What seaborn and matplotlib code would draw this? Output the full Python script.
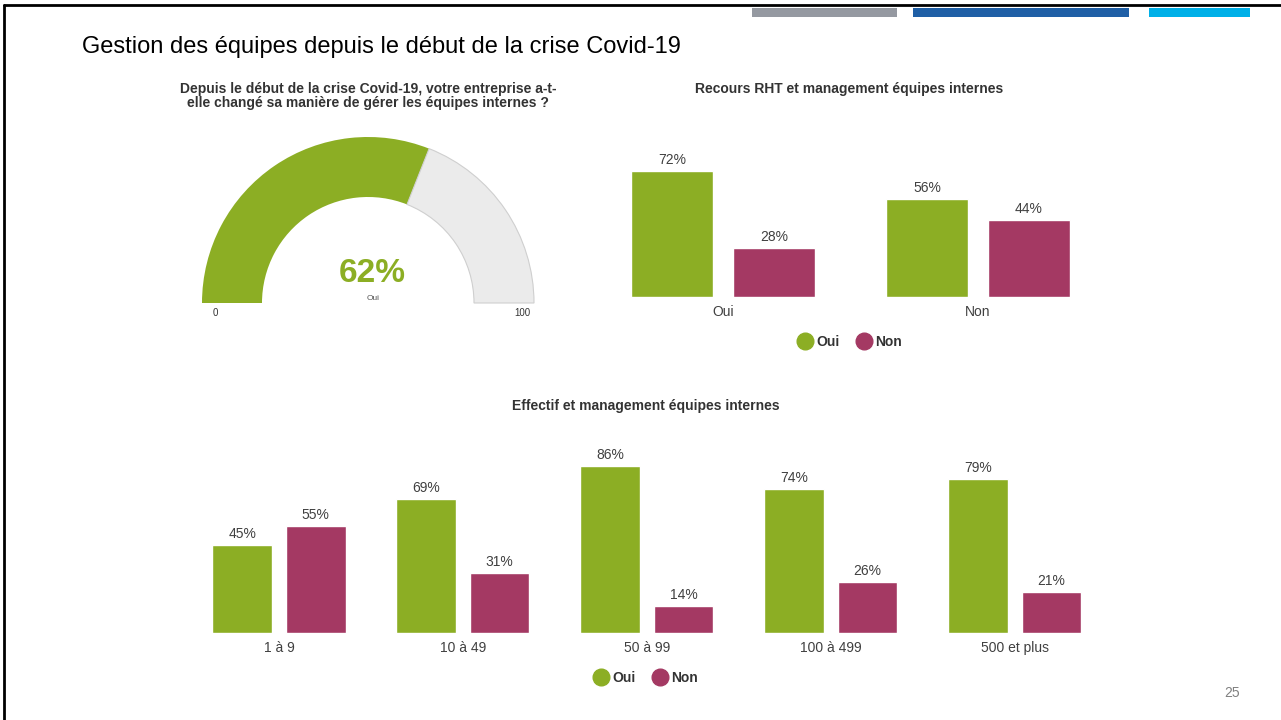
import numpy as np
import pandas as pd
import matplotlib
matplotlib.use("Agg")
import matplotlib.pyplot as plt
import seaborn as sns
from matplotlib.lines import Line2D
from matplotlib.patches import Rectangle

# data
gauge_value = 62
gauge_label = "Oui"

rht_groups = ["Oui", "Non"]
rht_oui = [72, 56]
rht_non = [28, 44]

size_groups = ["1 à 9", "10 à 49", "50 à 99", "100 à 499", "500 et plus"]
size_oui = [45, 69, 86, 74, 79]
size_non = [55, 31, 14, 26, 21]

answers = ["Oui", "Non"]

GREEN = "#8CAE24"
PINK = "#A43963"
TXT = "#404040"
W, H = 1281, 720

sns.set_theme(style="white")
plt.rcParams["font.family"] = ["Liberation Sans", "DejaVu Sans"]

fig = plt.figure(figsize=(W / 100, H / 100), dpi=100)
fig.patch.set_facecolor("white")


def px_axes(left, top, right, bottom):
    return fig.add_axes([left / W, 1 - bottom / H, (right - left) / W, (bottom - top) / H])


def fx(x):
    return x / W


def fy(y):
    return 1 - y / H


def long_df(groups, oui, non):
    return pd.DataFrame({
        "groupe": list(groups) * 2,
        "reponse": ["Oui"] * len(groups) + ["Non"] * len(groups),
        "pct": list(oui) + list(non),
    })


def draw_bars(ax, df, groups, fontsize):
    sns.barplot(data=df, x="groupe", y="pct", hue="reponse", order=groups,
                hue_order=answers, palette=[GREEN, PINK], width=0.8, gap=0.19,
                saturation=1, legend=False, ax=ax)
    for c in ax.containers:
        ax.bar_label(c, fmt="%d%%", padding=3, fontsize=fontsize, color=TXT)
    ax.set_xlim(-0.5, len(groups) - 0.5)
    ax.set_ylim(0, 100)
    ax.set_xlabel("")
    ax.set_ylabel("")
    ax.set_yticks([])
    ax.tick_params(axis="x", length=0, pad=6, labelsize=fontsize, labelcolor=TXT)
    sns.despine(ax=ax, left=True, bottom=True)
    ax.patch.set_alpha(0)


def add_legend(ax, cx, cy):
    handles = [Line2D([], [], marker="o", linestyle="", markersize=12,
                      markerfacecolor=col, markeredgecolor=col, label=lab)
               for col, lab in zip([GREEN, PINK], answers)]
    leg = ax.legend(handles=handles, loc="center", ncol=2, frameon=False,
                    bbox_to_anchor=(fx(cx), fy(cy)), bbox_transform=fig.transFigure,
                    handletextpad=0.35, columnspacing=1.2, handlelength=1.0,
                    prop={"weight": "bold", "size": 10})
    for t in leg.get_texts():
        t.set_color("#333333")


# slide frame and header decoration
fig.add_artist(Line2D([fx(4), 1], [fy(5), fy(5)], color="black", lw=2))
fig.add_artist(Line2D([fx(4), fx(4)], [fy(5), 0], color="black", lw=2))
for x0, x1, col in [(752, 897, "#9599A1"), (913, 1129, "#1F5FA6"), (1149, 1250, "#00B0E8")]:
    fig.add_artist(Rectangle((fx(x0), fy(17)), fx(x1 - x0), 9 / H,
                             transform=fig.transFigure, color=col, lw=0))

fig.text(fx(82), fy(47), "Gestion des équipes depuis le début de la crise Covid-19",
         fontsize=17, color="black", va="center", ha="left")
fig.text(fx(1232), fy(693), "25", fontsize=10, color="#808080", ha="center", va="center")

# gauge
gax = px_axes(202, 137, 534, 303)
gax.pie([gauge_value, 100 - gauge_value, 100], startangle=180, counterclock=False,
        colors=[GREEN, "#EBEBEB", "none"], radius=1,
        wedgeprops={"width": 60 / 166, "linewidth": 0})
gax.patches[1].set_edgecolor("#CFCFCF")
gax.patches[1].set_linewidth(0.8)
gax.set_xlim(-1, 1)
gax.set_ylim(0, 1)
gax.set_aspect("auto")
gax.text(0.025, 0.18, f"{gauge_value}%", fontsize=24, fontweight="bold", color=GREEN,
         ha="center", va="center")
gax.text(0.03, 0.03, gauge_label, fontsize=6, color="#555555", ha="center", va="center")
gax.text(-0.92, -0.06, "0", fontsize=7, color="#333333", ha="center", va="center", clip_on=False)
gax.text(0.93, -0.06, "100", fontsize=7, color="#333333", ha="center", va="center", clip_on=False)
fig.text(fx(368), fy(96), "Depuis le début de la crise Covid-19, votre entreprise a-t-\n"
         "elle changé sa manière de gérer les équipes internes ?",
         fontsize=10, fontweight="bold", color="#333333", ha="center", va="center",
         linespacing=1.0)

# RHT bars
ax1 = px_axes(595.5, 122, 1105.5, 297)
draw_bars(ax1, long_df(rht_groups, rht_oui, rht_non), rht_groups, 10)
fig.text(fx(849), fy(89), "Recours RHT et management équipes internes", fontsize=10,
         fontweight="bold", color="#333333", ha="center", va="center")
add_legend(ax1, 850, 342)

# size bars
ax2 = px_axes(187, 438.5, 1106.5, 633)
draw_bars(ax2, long_df(size_groups, size_oui, size_non), size_groups, 10)
fig.text(fx(646), fy(406), "Effectif et management équipes internes", fontsize=10,
         fontweight="bold", color="#333333", ha="center", va="center")
add_legend(ax2, 646, 678)

fig.savefig("out.png", dpi=100, facecolor="white")
